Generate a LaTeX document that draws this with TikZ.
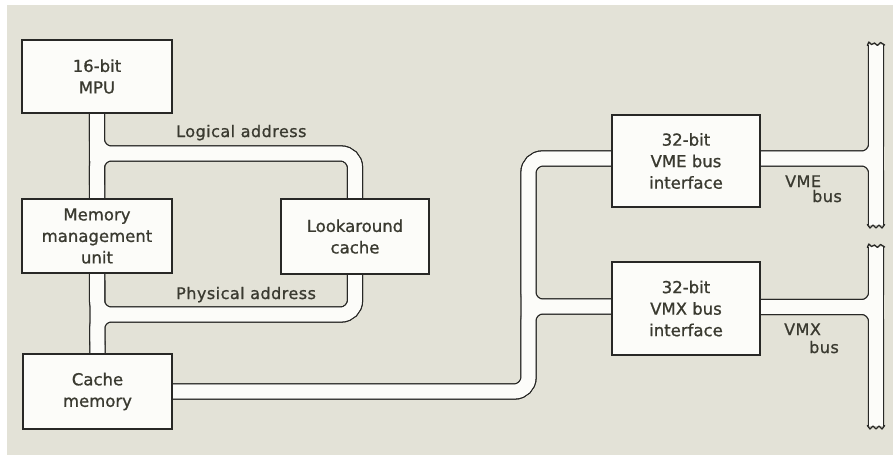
\documentclass[tikz,border=0pt]{standalone}
\usepackage{fontspec}
\setmainfont{DejaVu Sans}[FakeBold=1]
\newfontfamily\lblfont{DejaVu Sans}[FakeBold=1,LetterSpace=3]
\definecolor{bg}{RGB}{227,226,215}
\definecolor{ink}{RGB}{40,40,38}
\definecolor{txt}{RGB}{58,58,48}
\definecolor{boxfill}{RGB}{252,252,249}
\pgfdeclarelayer{background}
\pgfsetlayers{background,main}
\newcommand\mybuses[1]{%
  \draw[#1] (mpu.south) -- (cache.north);
  \draw[#1] (mpu.south) -- (lj) -- (lr) -- (look.north);
  \draw[#1] (mmu.north) -- (lj) -- (lr) -- (look.north);
  \draw[#1] (look.south) -- (pr) -- (pj) -- (mmu.south);
  \draw[#1] (look.south) -- (pr) -- (pj) -- (cache.north);
  \draw[#1] (cache.east) -- (cj) -- (ej) -- (vmein);
  \draw[#1] (cache.east) -- (cj) -- (xj) -- (vmxin);
  \draw[#1] (vmein) -- (ej) -- (xj) -- (vmxin);
  \draw[#1] (vtop) -- (vbot);
  \draw[#1] (vmeout) -- (ej2) -- (vtop);
  \draw[#1] (vmeout) -- (ej2) -- (vbot);
  \draw[#1] (wtop) -- (wbot);
  \draw[#1] (vmxout) -- (xj2) -- (wtop);
  \draw[#1] (vmxout) -- (xj2) -- (wbot);
}
\begin{document}
\begin{tikzpicture}[x=1pt,y=-1pt,
  box/.style={draw=ink,line width=2.2pt,fill=boxfill,minimum width=148pt,
    align=center,font=\fontsize{16.5}{21.5}\selectfont,text=txt,inner sep=0pt},
  busout/.style={draw=ink,line width=16.3pt,rounded corners=14pt},
  busin/.style={draw=boxfill,line width=13.7pt,rounded corners=14pt},
  lbl/.style={font=\lblfont\fontsize{16}{20}\selectfont,text=txt,inner sep=0pt,anchor=base west},
  brk/.style={draw=ink,line width=1.3pt,line join=round,line cap=round}]
\useasboundingbox (0,0) rectangle (893,461);

% boxes
\node[box,minimum width=150pt,minimum height=73pt] (mpu) at (97,76.5) {16-bit\\MPU};
\node[box,minimum width=150pt,minimum height=74pt] (mmu) at (97,236) {Memory\\management\\unit};
\node[box,minimum height=75pt] (look) at (355,236.5) {Lookaround\\cache};
\node[box,minimum width=149pt,minimum height=75pt] (cache) at (97.5,391.5) {Cache\\memory};
\node[box,minimum height=92pt] (vme) at (686,161) {32-bit\\VME bus\\interface};
\node[box,minimum height=93pt] (vmx) at (686,308.5) {32-bit\\VMX bus\\interface};

% bus bend points
\coordinate (lj) at (97,153.5);
\coordinate (lr) at (355,153.5);
\coordinate (pj) at (97,314.5);
\coordinate (pr) at (355,314.5);
\coordinate (cj) at (528.5,391.5);
\coordinate (ej) at (528.5,158.5);
\coordinate (xj) at (528.5,306.5);
\coordinate (vmein) at ([yshift=2.5pt]vme.west);
\coordinate (vmxin) at ([yshift=2pt]vmx.west);
\coordinate (vmeout) at ([yshift=2.5pt]vme.east);
\coordinate (vmxout) at ([yshift=1.5pt]vmx.east);
\coordinate (ej2) at (876,158.5);
\coordinate (xj2) at (876,307);
\coordinate (vtop) at (876,45);
\coordinate (vbot) at (876,225);
\coordinate (wtop) at (876,247);
\coordinate (wbot) at (876,426);

\begin{pgfonlayer}{background}
  \fill[white] (0,0) rectangle (893,461);
  \fill[bg] (7,5) rectangle (893,455);
  \mybuses{busout}
  \mybuses{busin}
\end{pgfonlayer}

% break marks
\draw[brk] (867.35,45.5) -- (868.8,42) -- (871.5,44.5) -- (874.5,43) -- (877.5,45.5) -- (880.5,42.5) -- (884.65,45);
\draw[brk] (867.35,224.5) -- (870,228) -- (873,225) -- (876,228) -- (879,225) -- (882,228) -- (884.65,224.5);
\draw[brk] (867.35,247.5) -- (868.8,244) -- (871.5,246.5) -- (874.5,245) -- (877.5,247.5) -- (880.5,244.5) -- (884.65,247);
\draw[brk] (867.35,425.5) -- (870,429) -- (873,426) -- (876,429) -- (879,426) -- (882,429) -- (884.65,425.5);

% labels
\node[lbl] (la) at (176,137) {Logical address};
\node[lbl] (pa) at (176,299) {Physical address};
\node[lbl] (vmel) at (785,187) {VME};
\node[lbl] (vmeb) at (812,202) {bus};
\node[lbl] (vmxl) at (784,335) {VMX};
\node[lbl] (vmxb) at (809,353) {bus};
\end{tikzpicture}
\end{document}
